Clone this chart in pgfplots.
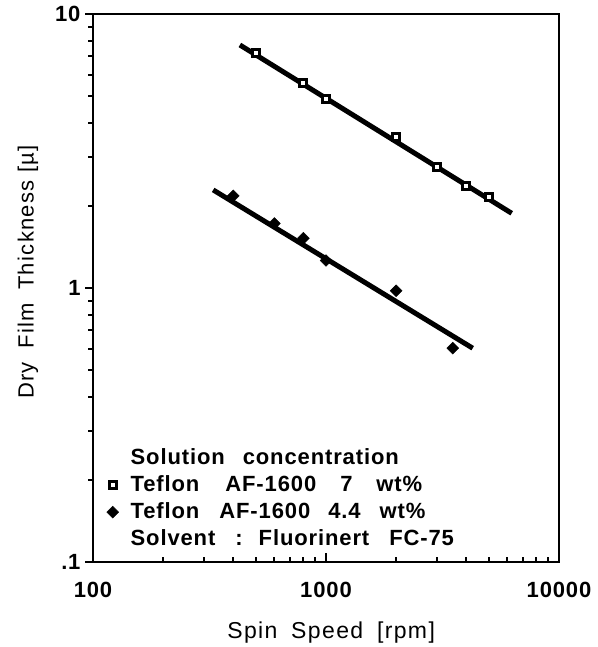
\documentclass[border=0pt]{standalone}
\usepackage{fontspec}
\setmainfont{Liberation Sans}
\newfontfamily\lblfont[LetterSpace=6]{Liberation Sans}
\newfontfamily\tckfont[LetterSpace=4]{Liberation Sans}
\usepackage{pgfplots}
\pgfplotsset{compat=1.18}

\newcommand{\bigfont}{\fontsize{22bp}{26bp}\selectfont}

\begin{document}
\begin{tikzpicture}
\useasboundingbox (-93bp,-85bp) rectangle (505bp,562bp);
% main axis: data, box, x ticks inside
\begin{axis}[
    xmode=log, ymode=log,
    scale only axis, width=466bp, height=548bp,
    xmin=100, xmax=10000, ymin=0.1, ymax=10,
    axis line style={line width=2bp},
    tick align=inside,
    xtick pos=bottom,
    xtick={100,1000,10000}, xticklabels={100,1000,10000},
    minor xtick={200,300,400,500,600,700,800,900,2000,3000,4000,5000,6000,7000,8000,9000},
    ytick=\empty,
    major tick length=9bp, minor tick length=5bp,
    tick style={line width=2bp, black},
    xticklabel style={font=\tckfont\bfseries\bigfont, anchor=base, yshift=-35bp},
    xlabel={Spin\hspace{6bp} Speed\hspace{6bp} [rpm]},
    xlabel style={font=\lblfont\fontsize{23bp}{27bp}\selectfont, at={(axis description cs:0.511,-0.1387)}, anchor=base},
    ylabel={Dry\hspace{6bp} Film\hspace{6bp} Thickness [µ]},
    ylabel style={font=\lblfont\fontsize{22bp}{26bp}\selectfont, at={(axis description cs:-0.1395,0.529)}, anchor=center, rotate=0},
    legend style={at={(axis description cs:0.0236,0.2099)}, anchor=north west,
        draw=none, fill=none, inner sep=0pt, row sep=5bp,
        font=\tckfont\bfseries\bigfont,
        nodes={inner sep=1bp, text height=16bp, text depth=4bp},
        /tikz/every odd column/.append style={column sep=11bp}},
    legend cell align=left,
]
\addplot[black, line width=5bp, forget plot] coordinates {(427,7.71) (6266,1.874)};
\addplot[black, line width=5bp, forget plot] coordinates {(328,2.28) (4262,0.603)};

\addlegendimage{empty legend}
\addlegendentry{Solution\hspace{18bp}concentration}
\addplot[only marks, mark=square*, mark size=3.5bp, mark options={fill=white, draw=black, line width=3bp}]
    coordinates {(500,7.22) (800,5.59) (1000,4.90) (2000,3.55) (3000,2.77) (4000,2.36) (5000,2.14)};
\addlegendentry{Teflon\hspace{26bp}AF-1600\hspace{24bp}7\hspace{24bp}wt\%}
\addplot[only marks, mark=square*, mark size=4.2bp, mark options={fill=black, draw=black, rotate=45}]
    coordinates {(400,2.17) (600,1.72) (800,1.52) (1000,1.26) (2000,0.977) (3500,0.603)};
\addlegendentry{Teflon\hspace{20bp}AF-1600\hspace{18bp}4.4\hspace{19bp}wt\%}
\addlegendimage{empty legend}
\addlegendentry{Solvent\hspace{20bp}:\hspace{16bp}Fluorinert\hspace{20bp}FC-75}
\end{axis}
% second axis: y ticks outside
\begin{axis}[
    xmode=log, ymode=log,
    scale only axis, width=466bp, height=548bp,
    xmin=100, xmax=10000, ymin=0.1, ymax=10,
    hide x axis,
    axis line style={line width=2bp},
    tick align=outside,
    ytick pos=left,
    ytick={0.1,1,10}, yticklabels={.1,1,10},
    minor ytick={0.2,0.3,0.4,0.5,0.6,0.7,0.8,0.9,2,3,4,5,6,7,8,9},
    major tick length=8bp, minor tick length=5bp,
    tick style={line width=2bp, black},
    yticklabel style={font=\tckfont\bfseries\bigfont, anchor=east, xshift=-1bp},
]
\addplot[draw=none, forget plot] coordinates {(100,1) (1000,1)};
\end{axis}
\end{tikzpicture}
\end{document}
